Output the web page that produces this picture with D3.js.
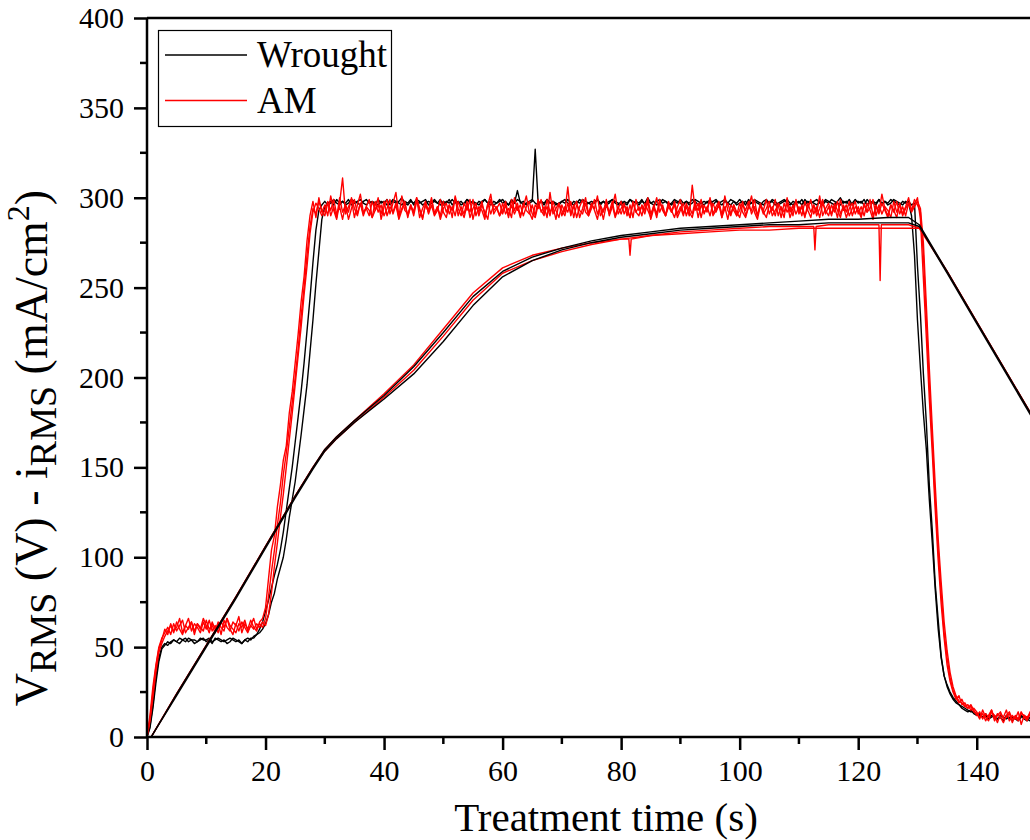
<!DOCTYPE html>
<html>
<head>
<meta charset="utf-8">
<script src="https://cdn.jsdelivr.net/npm/d3@7"></script>
<style>
  body { margin: 0; background: #fff; }
  svg { display: block; font-family: 'Liberation Serif', 'Times New Roman', serif; }
</style>
</head>
<body>
<div id="chart"></div>
<script>
// voltage runs, sampled every 0.5 s from 0 to 149.5 s
const wrought1 = [
  0,6,18,33,44,50,52,51,53,54, 53,55,54,53,55,54,54,53,55,54,
  54,55,53,54,55,54,53,54,55,54, 53,54,52,54,55,54,56,57,58,60,
  63,68,75,80,88,94,100,110,122,132, 142,155,168,182,196,214,232,252,270,288,
  295,297,298,296,299,297,298,296,297,299, 298,297,296,298,299,297,298,297,296,298,
  297,299,296,298,297,298,300,297,296,298, 297,299,298,296,297,298,297,299,297,296,
  298,297,299,296,298,297,298,296,299,297, 298,297,296,298,299,297,296,298,297,299,
  297,298,296,299,297,304,297,298,296,297, 298,327,297,298,296,299,297,298,297,296,
  298,297,299,297,296,298,297,299,298,297, 296,298,299,297,298,296,297,299,298,297,
  296,298,297,299,298,297,296,298,297,300, 297,298,296,297,299,298,297,296,298,297,
  299,297,298,296,297,299,298,297,296,298, 297,298,299,297,296,298,297,299,298,296,
  297,298,296,299,297,298,297,296,298,299, 297,298,296,297,298,299,297,296,298,297,
  298,296,299,297,298,297,296,298,297,299, 298,297,296,298,300,297,298,296,297,299,
  297,298,296,299,297,298,297,299,296,298, 297,299,298,297,296,298,297,298,296,297,
  262,235,202,175,140,115,85,65,45,34, 28,24,21,19,18,16,15,14,15,13,
  12,13,11,12,10,12,11,10,12,11, 10,11,9,11,10,12,10,9,11,10
];
const wrought2 = [
  0,5,16,30,42,49,51,53,52,54, 53,52,54,55,53,54,52,53,54,55,
  53,54,52,55,54,53,54,52,53,55, 54,53,52,54,53,55,55,57,60,64,
  70,76,83,90,96,104,114,126,138,150, 164,178,192,208,226,244,264,282,293,296,
  298,296,297,299,297,296,298,297,299,296, 297,298,299,297,296,298,297,296,299,297,
  298,296,297,299,298,297,296,298,297,299, 296,298,297,298,299,296,297,298,297,299,
  296,298,297,299,297,298,296,297,299,298, 297,296,298,297,299,297,298,296,297,298,
  299,297,296,298,297,299,298,296,297,298, 299,297,296,298,297,299,297,298,296,297,
  298,299,297,296,298,297,299,298,296,297, 298,297,299,296,298,297,298,299,297,296,
  298,297,296,299,297,298,297,299,296,298, 297,296,298,299,297,298,296,297,299,298,
  297,296,298,297,299,298,296,297,298,297, 299,296,298,297,298,299,297,296,298,297,
  299,297,298,296,297,299,298,297,296,298, 297,299,298,296,297,298,299,297,296,298,
  297,299,296,298,297,298,299,297,296,298, 297,299,298,297,296,298,297,299,296,298,
  298,297,299,296,298,297,296,299,297,298, 296,297,299,298,297,296,298,297,290,268,
  232,205,180,160,132,108,82,60,44,34, 29,25,22,20,18,17,16,15,14,14,
  13,12,11,13,10,11,12,10,11,9, 12,10,11,10,9,11,12,10,9,11
];
const am1 = [
  0,12,28,40,50,55,58,61,57,63, 59,62,65,58,61,64,59,63,60,66,
  62,58,64,60,63,57,65,61,59,64, 62,67,58,63,60,65,61,59,64,66,
  72,88,104,112,128,140,154,162,180,192, 208,224,242,256,276,290,298,289,300,292,
  296,290,301,293,288,297,311,291,295,299, 289,296,302,292,294,290,298,293,300,288,
  295,299,291,297,303,290,294,298,289,296, 292,300,294,288,297,293,299,291,295,290,
  298,292,296,289,301,294,290,297,293,299, 288,295,292,298,290,296,302,291,294,297,
  291,296,289,299,293,297,290,295,301,292, 288,296,294,299,291,295,290,298,293,289,
  296,292,306,290,295,298,289,294,300,291, 297,293,288,296,292,299,290,295,302,291,
  294,297,290,296,289,299,293,295,291,298, 288,294,300,292,296,290,297,293,289,295,
  299,291,295,290,307,293,297,289,296,292, 300,291,295,298,289,294,297,291,296,290,
  293,298,290,295,301,292,288,296,293,299, 291,295,290,297,294,289,300,292,296,291,
  295,290,298,293,289,296,292,301,290,294, 297,291,295,289,299,293,296,290,294,298,
  291,295,290,297,293,288,296,292,302,294, 290,296,293,289,297,291,295,300,293,296,
  300,288,255,222,188,158,126,98,74,55, 40,31,25,21,23,18,19,16,17,14,
  13,10,15,11,9,14,12,8,13,11, 15,9,12,10,14,7,12,11,13,10
];
const am2 = [
  0,9,22,36,47,52,56,59,62,58, 64,60,57,62,66,59,63,61,58,64,
  60,65,59,62,58,64,61,66,60,57, 63,59,64,61,58,62,60,63,61,64,
  62,68,80,95,108,122,135,150,165,180, 196,212,228,246,262,280,292,297,294,290,
  293,298,290,295,289,300,292,296,288,294, 299,291,297,290,295,293,289,298,292,296,
  290,294,299,291,296,288,293,297,290,295, 292,300,289,294,298,291,296,290,293,299,
  292,289,296,293,300,290,295,291,298,289, 294,297,290,296,292,288,299,293,295,290,
  297,291,294,289,300,293,296,290,295,298, 291,289,296,293,290,299,292,295,288,297,
  293,290,297,291,296,289,295,299,292,290, 296,294,301,290,293,297,291,296,289,294,
  298,291,295,289,297,292,290,296,293,300, 291,295,289,297,294,290,298,292,296,289,
  293,297,290,295,291,298,289,296,292,294, 299,290,293,297,291,295,288,296,293,290,
  297,292,289,295,293,299,290,296,291,294, 298,290,293,296,289,297,292,295,290,299,
  292,296,290,294,299,291,295,289,297,293, 290,296,292,298,291,295,289,294,297,291,
  295,290,297,292,294,299,290,296,291,295, 293,289,298,292,296,290,294,297,292,295,
  298,294,275,240,205,172,140,110,86,64, 48,36,28,23,20,19,17,16,18,15,
  12,14,10,13,11,15,9,12,14,10, 11,13,8,12,10,14,11,9,13,11
];
const am3 = [
  0,10,25,39,49,54,60,57,63,59, 61,66,58,62,60,64,57,63,61,59,
  65,60,62,58,64,61,59,66,62,60, 58,63,61,65,59,62,66,60,63,61,
  66,78,92,104,118,130,146,158,172,186, 200,216,234,250,268,284,294,291,298,293,
  290,297,293,299,291,295,288,296,292,300, 294,290,297,291,295,299,289,293,296,291,
  298,290,295,292,297,289,301,293,291,296, 290,298,293,289,296,292,300,291,295,288,
  294,297,291,295,290,298,293,289,296,292, 299,290,295,293,288,297,291,296,294,290,
  293,298,290,296,291,295,289,297,293,291, 296,290,299,292,295,289,303,291,294,297,
  290,295,292,298,289,296,293,291,297,290, 294,299,291,295,288,296,292,298,290,295,
  291,296,293,289,298,292,295,290,297,293, 289,296,291,299,293,290,295,292,298,291,
  295,290,297,292,289,296,293,299,291,295, 290,297,292,296,289,301,293,290,296,292,
  289,296,293,298,291,295,290,297,292,289, 296,293,299,290,295,292,297,289,294,298,
  291,295,289,297,292,296,290,294,299,291, 295,290,297,293,289,296,292,298,290,295,
  293,289,296,292,299,290,295,291,297,293, 289,296,292,298,291,295,290,297,293,299,
  296,292,268,232,196,165,132,104,80,58, 44,33,26,22,19,21,17,18,15,16,
  14,11,13,9,12,15,10,13,11,8, 12,14,10,11,9,13,12,10,14,11
];

// current density runs
const curTime = [0.7, 5, 10, 15, 20, 25, 28, 30, 32, 35, 40, 45, 50, 55, 60, 65, 70, 75, 80, 85, 90,
  95, 100, 105, 110, 115, 120, 125, 128.5, 130.3, 135, 140, 145, 150];
const curWrought1 = [0, 24, 51, 78, 106, 134, 150, 160, 167, 176, 190, 206, 225, 245, 259, 267, 272, 276, 279, 281, 283,
  284, 285, 286, 287, 288, 288, 289, 289, 285, 259, 231, 203, 175];
const curWrought2 = [0, 23, 50, 77, 105, 133, 149, 159, 166, 175, 188, 202, 220, 240, 256, 265, 271, 275, 278, 280, 282,
  283, 284, 285, 285, 286, 286, 286, 286, 284, 258, 230, 202, 174];
const curAm2 = [0, 24, 51, 78, 106, 134, 150, 160, 167, 176, 191, 207, 227, 247, 261, 268, 272, 275, 277, 279, 280,
  281, 282, 282, 283, 283, 283, 283, 283, 283, 259, 231, 203, 175];
const curAmTime = [0.7, 5, 10, 15, 20, 25, 28, 30, 32, 35, 40, 45, 50, 55, 60, 65, 70, 75, 80, 81.3, 81.5, 81.7, 85, 90,
  95, 100, 105, 110, 112.5, 112.7, 112.9, 115, 120, 123.5, 123.7, 123.9, 125, 128.5, 130.5, 135, 140, 145, 150];
const curAm1 = [0, 24, 51, 78, 106, 134, 150, 159, 166, 175, 189, 204, 223, 243, 258, 265, 270, 274, 277, 277, 268, 277, 279, 281,
  282, 283, 284, 284, 284, 271, 284, 285, 285, 285, 254, 285, 285, 285, 283, 259, 231, 203, 175];

const xTicks = [0, 20, 40, 60, 80, 100, 120, 140];
const yTicks = [0, 50, 100, 150, 200, 250, 300, 350, 400];
const legendLabels = ['Wrought', 'AM'];

class Chart {
    constructor(_tag) {
        this.config = {
            width: 1030,
            height: 840,
            left: 147,
            top: 18,
            bottom: 737,
            right: 1036
        }
        this.tag = _tag;
        this.initVis();
    }
    initVis() {
        let vis = this;
        let c = vis.config;

        vis.svg = d3.select(vis.tag)
        .append('svg')
        .attr('width', c.width)
        .attr('height', c.height);

        vis.x = d3.scaleLinear().domain([0, 150]).range([c.left, c.right]);
        vis.y = d3.scaleLinear().domain([0, 400]).range([c.bottom, c.top]);

        vis.svg.append('clipPath').attr('id', 'plotClip')
        .append('rect')
        .attr('x', c.left).attr('y', c.top)
        .attr('width', c.right - c.left).attr('height', c.bottom - c.top);

        vis.plot = vis.svg.append('g').attr('clip-path', 'url(#plotClip)');
    }
    renderVis() {
        let vis = this;
        let c = vis.config;
        let vTime = d3.range(0, 150, 0.5);

        for (let s of [wrought1, wrought2, am1, am2, am3]) {
            if (s.length !== vTime.length) throw new Error('series length ' + s.length);
        }

        let line = d3.line().x(d => vis.x(d[0])).y(d => vis.y(d[1]));
        let runs = [
            { t: vTime, v: wrought1, color: '#000' },
            { t: vTime, v: wrought2, color: '#000' },
            { t: vTime, v: am1, color: '#ff0000' },
            { t: vTime, v: am2, color: '#ff0000' },
            { t: vTime, v: am3, color: '#ff0000' },
            { t: curAmTime, v: curAm1, color: '#ff0000' },
            { t: curTime, v: curAm2, color: '#ff0000' },
            { t: curTime, v: curWrought1, color: '#000' },
            { t: curTime, v: curWrought2, color: '#000' }
        ];

        vis.plot.selectAll('.run')
        .data(runs)
        .join('path')
        .attr('class', 'run')
        .attr('fill', 'none')
        .attr('stroke', d => d.color)
        .attr('stroke-width', 1.4)
        .attr('stroke-linejoin', 'round')
        .attr('d', d => line(d.v.map((v, i) => [d.t[i], v])));

        // axes
        let xAxis = vis.svg.append('g')
        .attr('transform', `translate(0, ${c.bottom})`)
        .call(d3.axisBottom(vis.x).tickValues(xTicks).tickSize(13).tickPadding(10).tickFormat(d3.format('d')));
        xAxis.append('g').selectAll('line')
        .data(d3.range(10, 150, 20))
        .join('line')
        .attr('x1', d => vis.x(d)).attr('x2', d => vis.x(d))
        .attr('y1', 0).attr('y2', 7)
        .attr('stroke', '#000').attr('stroke-width', 2.5);

        let yAxis = vis.svg.append('g')
        .attr('transform', `translate(${c.left}, 0)`)
        .call(d3.axisLeft(vis.y).tickValues(yTicks).tickSize(13).tickPadding(10).tickFormat(d3.format('d')));
        yAxis.append('g').selectAll('line')
        .data(d3.range(25, 400, 50))
        .join('line')
        .attr('y1', d => vis.y(d)).attr('y2', d => vis.y(d))
        .attr('x1', 0).attr('x2', -7)
        .attr('stroke', '#000').attr('stroke-width', 2.5);

        for (let ax of [xAxis, yAxis]) {
            ax.select('.domain').attr('stroke-width', 2.5);
            ax.selectAll('.tick line').attr('stroke-width', 2.5);
            ax.selectAll('.tick text')
            .attr('font-family', "'Liberation Serif', serif")
            .attr('font-size', 30)
            .attr('fill', '#000');
        }
        xAxis.select('.domain').attr('d', `M${c.left},0H${c.right}`);
        yAxis.select('.domain').attr('d', `M0,${c.bottom}V${c.top}`);

        vis.svg.append('line')
        .attr('x1', c.left).attr('x2', c.right)
        .attr('y1', c.top).attr('y2', c.top)
        .attr('stroke', '#000').attr('stroke-width', 2.5);

        // titles
        vis.svg.append('text')
        .attr('x', 606).attr('y', 831)
        .attr('text-anchor', 'middle')
        .attr('font-size', 41)
        .text('Treatment time (s)');

        let yt = vis.svg.append('text')
        .attr('transform', 'translate(47, 448) rotate(-90)')
        .attr('text-anchor', 'middle')
        .attr('font-size', 46);
        yt.append('tspan').text('V');
        yt.append('tspan').attr('font-size', 38).attr('dy', 9).text('RMS');
        yt.append('tspan').attr('dy', -9).text(' (V) - i');
        yt.append('tspan').attr('font-size', 38).attr('dy', 9).text('RMS');
        yt.append('tspan').attr('dy', -9).text(' (mA/cm');
        yt.append('tspan').attr('font-size', 32).attr('dy', -18).text('2');
        yt.append('tspan').attr('dy', 18).text(')');

        // legend
        let lg = vis.svg.append('g');
        lg.append('rect')
        .attr('x', 158.5).attr('y', 30.5)
        .attr('width', 233).attr('height', 96)
        .attr('fill', '#fff')
        .attr('stroke', '#000').attr('stroke-width', 1.2);
        let items = lg.selectAll('.item')
        .data(legendLabels)
        .join('g')
        .attr('class', 'item')
        .attr('transform', (d, i) => `translate(0, ${55 + i * 45.5})`);
        items.append('line')
        .attr('x1', 165).attr('x2', 247)
        .attr('stroke', (d, i) => i === 0 ? '#000' : '#ff0000')
        .attr('stroke-width', 1.3);
        items.append('text')
        .attr('x', 257).attr('y', 12)
        .attr('font-size', 37)
        .text(d => d);
    }
}

let chart = new Chart('#chart');
chart.renderVis();
</script>
</body>
</html>
